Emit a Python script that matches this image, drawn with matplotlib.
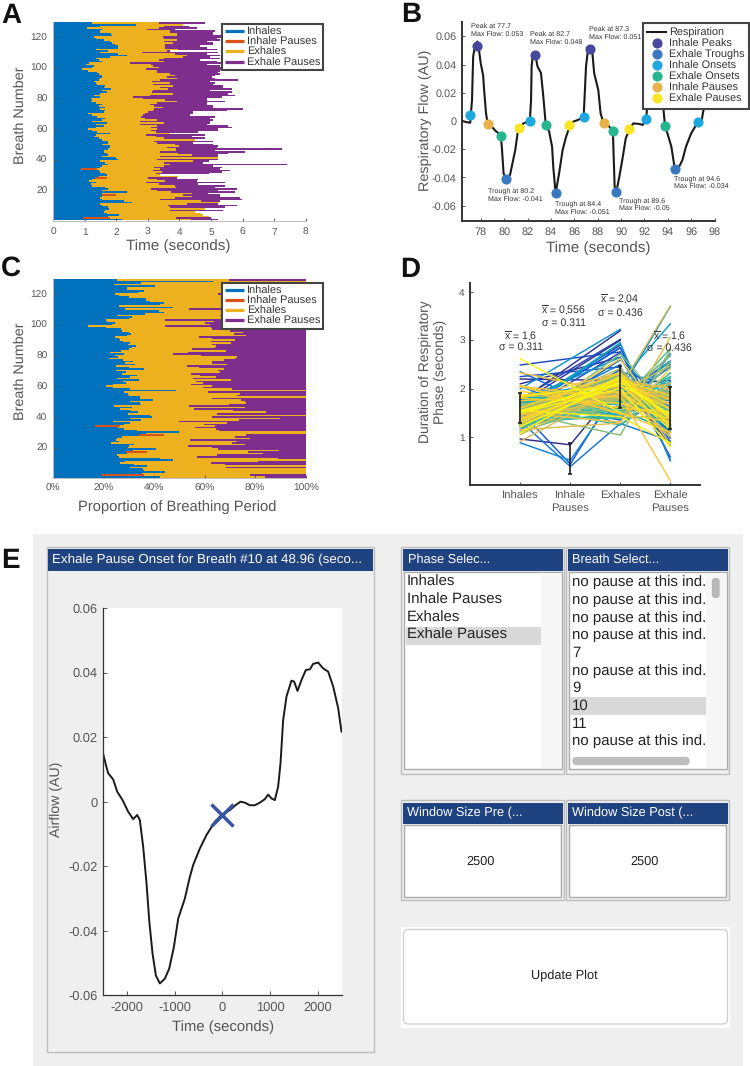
import numpy as np
import matplotlib
matplotlib.use("Agg")
import matplotlib.pyplot as plt
from matplotlib.patches import Rectangle, FancyBboxPatch
from matplotlib.colors import LinearSegmentedColormap
from matplotlib.ticker import FuncFormatter

plt.rcParams['font.family'] = ['Liberation Sans', 'DejaVu Sans']
plt.rcParams['mathtext.fontset'] = 'custom'
plt.rcParams['mathtext.rm'] = 'Liberation Sans'
plt.rcParams['mathtext.default'] = 'rm'
plt.rcParams['text.hinting'] = 'no_hinting'
plt.rcParams['axes.unicode_minus'] = False

W, H = 750, 1066
BLUE, ORANGE, YELLOW, PURPLE = '#0072BD', '#D95319', '#EDB120', '#7E2F8E'
GREY = '#555555'

# ---------- breath data (seconds), breath 1..130 ----------
inhale_end = [2.2,0.96,1.75,2.1,1.7,1.6,1.65,1.78,1.75,1.55,
              1.5,2.49,2.25,1.55,1.5,1.55,1.54,1.55,2.35,1.55,
              1.75,1.65,1.25,1.2,1.35,1.15,1.25,1.33,1.45,1.7,
              1.65,1.5,1.45,0.88,1.5,1.55,1.75,1.65,1.5,2.05,
              2.0,1.55,1.75,1.7,1.6,1.6,1.75,1.8,1.8,1.55,
              1.75,1.75,1.55,1.45,1.3,1.35,1.8,1.4,1.25,1.1,
              1.35,1.6,1.35,1.7,1.25,1.55,1.65,1.4,1.25,1.1,
              1.6,1.65,1.5,1.65,1.45,1.55,1.35,1.2,1.25,1.2,
              1.5,1.3,1.5,1.7,1.55,1.85,1.6,1.65,1.4,1.35,
              1.3,1.45,1.5,1.55,1.55,1.45,1.4,1.1,0.91,1.25,
              1.3,1.05,1.15,1.55,1.45,1.35,1.8,2.33,2.05,1.5,
              1.75,1.35,2.07,2.05,1.95,1.87,1.8,1.6,1.35,1.3,
              1.86,1.83,1.49,1.5,1.55,1.09,1.5,2.62,1.22,1.54]
exhale_end = [4.37,3.9,4.95,4.75,4.7,4.5,3.7,4.8,3.7,3.65,
              4.25,5.25,4.7,3.4,3.85,4.4,4.1,4.4,3.75,3.3,
              3.1,3.9,3.85,3.35,2.95,3.55,3.3,3.0,3.95,3.4,
              3.25,3.45,3.15,3.4,3.2,3.5,3.7,3.5,4.44,3.3,
              5.23,3.4,4.4,3.95,3.4,3.9,3.9,3.6,4.0,3.85,
              3.3,3.2,4.5,3.5,3.25,2.95,3.7,3.25,3.1,3.3,
              3.1,3.3,2.75,3.5,2.75,3.28,2.9,2.8,2.86,2.9,
              3.0,3.18,3.2,3.49,3.2,3.07,3.3,3.92,3.55,2.86,
              2.54,3.07,3.8,3.12,3.18,3.65,3.4,3.8,3.18,3.7,
              3.12,3.4,3.92,3.6,3.86,3.7,3.3,3.3,2.95,3.35,
              3.18,3.1,2.44,3.5,3.35,3.5,4.13,4.23,3.86,2.81,
              3.6,3.97,3.55,3.55,3.55,3.8,3.5,3.92,3.5,3.49,
              3.92,3.92,3.7,3.7,2.97,3.35,3.5,4.13,3.35,3.65]
pause_end = [5.21,5.0,4.95,4.75,4.7,4.5,5.39,4.8,5.45,5.82,
             5.23,5.25,5.29,5.97,5.92,5.29,5.3,4.92,5.76,5.23,
             5.82,5.13,5.45,4.6,5.45,4.55,4.58,3.92,3.95,3.4,
             4.95,5.34,5.6,5.29,5.34,5.08,7.4,4.76,4.95,5.23,
             5.23,5.23,5.23,5.55,6.08,5.13,7.24,5.18,5.23,5.08,
             4.44,5.08,4.5,4.81,4.4,4.81,3.7,4.6,5.23,5.23,
             5.66,5.55,4.87,4.97,4.97,5.08,4.97,5.13,4.34,4.44,
             4.44,5.5,6.03,5.08,5.08,4.87,4.87,5.45,4.87,4.87,
             5.34,5.76,5.55,5.66,4.97,5.66,5.39,5.39,5.08,5.13,
             4.97,5.87,5.13,5.02,5.13,5.29,5.23,5.29,6.66,5.39,
             5.29,4.87,5.5,5.18,4.65,5.29,4.97,5.29,4.87,5.23,
             3.7,5.18,4.87,4.65,5.08,5.08,4.87,5.29,5.18,5.34,
             5.5,5.08,5.08,5.13,3.85,4.55,4.3,4.13,4.81,3.65]
# breaths with an inhale pause, and where that pause ends
ipause_breath = [2, 17, 28, 34]
ipause_end = [1.8, 1.98, 1.72, 1.4]

# ---------- panel B ----------
resp_t = [76.45,76.75,77.1,77.15,77.25,77.35,77.5,77.7,77.85,78.0,78.2,78.3,78.45,78.6,78.95,79.25,79.7,
          79.8,79.95,80.2,80.5,80.65,80.95,81.15,81.25,81.65,82.2,82.3,82.35,82.45,82.7,82.85,83.15,83.35,
          83.55,83.85,84.1,84.2,84.4,84.7,85.0,85.3,85.65,85.9,86.3,86.8,87.0,87.15,87.3,87.55,87.7,88.05,
          88.25,88.5,88.95,89.3,89.35,89.45,89.6,89.85,90.15,90.4,90.75,91.05,91.55,91.85,92.15,92.4,92.7,
          93.1,93.5,93.75,94.05,94.3,94.6,94.9,95.25,95.55,96.0,96.25,96.6,96.9,97.1,97.4]
resp_f = [0.0,-0.0008,-0.0012,0.0045,0.0146,0.0457,0.053,0.0563,0.0501,0.0407,0.0324,0.0206,0.0054,-0.0024,-0.0040,-0.0069,-0.0099,
          -0.0182,-0.0371,-0.0414,-0.0383,-0.0324,-0.0206,-0.0087,-0.0052,-0.0017,0.0002,0.0147,0.0387,0.0468,0.0456,0.0387,0.0340,0.0172,
          -0.0017,-0.0076,-0.0182,-0.0324,-0.0513,-0.0371,-0.0206,-0.0111,-0.0028,-0.0005,0.0007,0.0026,0.0385,0.0492,0.0508,0.0480,0.0338,0.0220,
          0.0054,-0.0017,-0.0036,-0.0069,-0.0206,-0.0465,-0.0501,-0.0395,-0.0253,-0.0123,-0.0052,-0.0017,-0.0021,-0.0028,0.0014,0.0300,0.0450,
          0.0490,0.0200,-0.0030,-0.0111,-0.0182,-0.0340,-0.0335,-0.0276,-0.0182,-0.0087,-0.0052,-0.0005,0.0007,0.0102,0.0300]
peak_t, peak_f = [77.7,82.6,87.3], [0.053,0.047,0.0508]
trough_t, trough_f = [80.2,84.4,89.6,94.6], [-0.0414,-0.0513,-0.0501,-0.034]
ion_t, ion_f = [77.1,82.2,86.8,92.15,96.6], [0.0045,0.0002,0.0026,0.0014,-0.0005]
eon_t, eon_f = [79.7,83.55,89.3,93.75], [-0.0105,-0.0028,-0.0069,-0.0035]
ip_t, ip_f = [78.6,88.5], [-0.0024,-0.0017]
ep_t, ep_f = [81.25,85.55,90.7], [-0.0052,-0.0028,-0.0055]
notes_b = [("Peak at 77.7\nMax Flow: 0.053", 471, 30.5), ("Peak at 82.7\nMax Flow: 0.048", 530, 38),
           ("Peak at 87.3\nMax Flow: 0.051", 588.7, 33), ("Trough at 80.2\nMax Flow: -0.041", 487.7, 195),
           ("Trough at 84.4\nMax Flow: -0.051", 554.7, 208), ("Trough at 89.6\nMax Flow: -0.05", 619.3, 204.3),
           ("Trough at 94.6\nMax Flow: -0.034", 674, 182.5)]

# ---------- panel D ----------
phase_names = ['Inhales', 'Inhale\nPauses', 'Exhales', 'Exhale\nPauses']
phase_mean = [1.6, 0.556, 2.04, 1.6]
phase_std = [0.311, 0.311, 0.436, 0.436]
mean_txt = ['1.6', '0.556', '2.04', '1.6']
std_txt = ['0.311', '0.311', '0.436', '0.436']

# ---------- panel E ----------
win_t = [-2500,-2444,-2395,-2290,-2206,-2094,-1976,-1871,-1787,-1731,-1661,-1591,-1535,-1465,-1395,-1311,
         -1206,-1115,-1017,-926,-787,-682,-612,-472,-332,-157,-17,158,283,381,472,577,682,787,892,962,1032,
         1101,1171,1220,1276,1346,1451,1507,1577,1661,1752,1836,1906,2010,2115,2220,2325,2430,2500]
win_f = [.0148,.0114,.0088,.0069,.0031,.0005,-.0031,-.0054,-.0041,-.0057,-.014,-.0253,-.0367,-.047,-.0538,-.0563,
         -.0548,-.0517,-.045,-.0362,-.03,-.0233,-.0196,-.0145,-.0103,-.0062,-.0041,-.0026,-.001,0,-.0003,-.0011,-.0011,-.0003,.0008,.0022,.001,
         .0005,.0047,.0119,.0253,.0326,.0375,.0372,.0343,.0377,.0408,.041,.0427,.0431,.0413,.0403,.0357,.029,.0217]
mark_t, mark_f = 3, -0.0041
phase_list = ['Inhales', 'Inhale Pauses', 'Exhales', 'Exhale Pauses']
breath_list = ['no pause at this ind.'] * 4 + ['7', 'no pause at this ind.', '9', '10', '11', 'no pause at this ind.']

# ---------- derived ----------
breaths = np.arange(1, 131)
ie = np.array(inhale_end, float)
ee = np.array(exhale_end, float)
pe = np.array(pause_end, float)
ex_start = ie.copy()
for b, e_ in zip(ipause_breath, ipause_end):
    ex_start[b - 1] = e_

fig = plt.figure(figsize=(W / 100, H / 100), dpi=100, facecolor='white')

def box(l, t, r, b):
    return [l / W, 1 - b / H, (r - l) / W, (b - t) / H]

ov = fig.add_axes([0, 0, 1, 1], zorder=0)
ov.set_xlim(0, W); ov.set_ylim(H, 0); ov.axis('off')

def rect(x0, y0, x1, y1, fc, ec='none', lw=0):
    ov.add_patch(Rectangle((x0, y0), x1 - x0, y1 - y0, fc=fc, ec=ec, lw=lw))

def style(ax, color='#BBBBBB', lw=0.7, ts=7.3, length=2, pad=4):
    for s in ['top', 'right']:
        ax.spines[s].set_visible(False)
    for s in ['left', 'bottom']:
        ax.spines[s].set_color(color)
        ax.spines[s].set_linewidth(lw)
    ax.tick_params(direction='in', length=length, width=0.7, color='#555555',
                   labelcolor=GREY, labelsize=ts, pad=pad)
    ax.patch.set_alpha(0)

def labels(ax, xl, xy, yl, yxy, fs_x=11, fs_y=10.4):
    ax.set_xlabel(xl, fontsize=fs_x, color=GREY, va='center', ha='center')
    ax.xaxis.set_label_coords(xy[0] / W, 1 - xy[1] / H, transform=fig.transFigure)
    ax.set_ylabel(yl, fontsize=fs_y, color=GREY, va='center', ha='center')
    ax.yaxis.set_label_coords(yxy[0] / W, 1 - yxy[1] / H, transform=fig.transFigure)

def bar_legend(ax, l, t):
    hs = [plt.Line2D([], [], color=c, lw=2.3, solid_capstyle='butt') for c in (BLUE, ORANGE, YELLOW, PURPLE)]
    leg = ax.legend(hs, ['Inhales', 'Inhale Pauses', 'Exhales', 'Exhale Pauses'], loc='upper left',
                    bbox_to_anchor=(l / W, 1 - t / H), bbox_transform=fig.transFigure, borderaxespad=0,
                    fontsize=7.9, labelspacing=0.0, borderpad=0.25, handlelength=1.75, handletextpad=0.3,
                    fancybox=False, framealpha=1, edgecolor='#444444', labelcolor='#333333')
    leg.get_frame().set_linewidth(1.5)

# ---------- A ----------
a = fig.add_axes(box(53, 21.7, 305.7, 221), zorder=1)
a.barh(breaths, ie, height=1, color=BLUE, lw=0)
ipb = np.array(ipause_breath)
a.barh(ipb, np.array(ipause_end) - ie[ipb - 1], left=ie[ipb - 1], height=1, color=ORANGE, lw=0)
a.barh(breaths, ee - ex_start, left=ex_start, height=1, color=YELLOW, lw=0)
a.barh(breaths, pe - ee, left=ee, height=1, color=PURPLE, lw=0)
a.set_xlim(0, 8); a.set_ylim(0, 130)
a.set_yticks(range(20, 121, 20)); a.set_xticks(range(0, 9))
style(a, pad=5)
a.tick_params(axis='y', pad=4)
labels(a, 'Time (seconds)', (178, 246), 'Breath Number', (20, 115))
bar_legend(a, 222, 24)

# ---------- C ----------
c = fig.add_axes(box(53, 278.5, 305.7, 478.3), zorder=1)
c.barh(breaths, ie / pe, height=1, color=BLUE, lw=0)
c.barh(ipb, (np.array(ipause_end) - ie[ipb - 1]) / pe[ipb - 1], left=ie[ipb - 1] / pe[ipb - 1], height=1, color=ORANGE, lw=0)
c.barh(breaths, (ee - ex_start) / pe, left=ex_start / pe, height=1, color=YELLOW, lw=0)
c.barh(breaths, (pe - ee) / pe, left=ee / pe, height=1, color=PURPLE, lw=0)
c.set_xlim(0, 1); c.set_ylim(0, 130)
c.set_yticks(range(20, 121, 20)); c.set_xticks(np.arange(0, 1.01, 0.2))
c.xaxis.set_major_formatter(FuncFormatter(lambda v, p: f'{v * 100:.0f}%'))
style(c, pad=4)
labels(c, 'Proportion of Breathing Period', (177.7, 506.7), 'Breath Number', (20, 371.7), fs_x=10.6)
bar_legend(c, 222, 282.7)

# ---------- B ----------
ax_b = fig.add_axes(box(462.3, 22.2, 714.6, 221.2), zorder=1)
ax_b.plot(resp_t, resp_f, color='#1a1a1a', lw=1.5, label='Respiration')
for (tt, ff, col, lab) in [(peak_t, peak_f, '#47489B', 'Inhale Peaks'), (trough_t, trough_f, '#3B78C2', 'Exhale Troughs'),
                           (ion_t, ion_f, '#1FA8E0', 'Inhale Onsets'), (eon_t, eon_f, '#28B68F', 'Exhale Onsets'),
                           (ip_t, ip_f, '#E8B24A', 'Inhale Pauses'), (ep_t, ep_f, '#F9E426', 'Exhale Pauses')]:
    ax_b.plot(tt, ff, 'o', color=col, ms=7.3, mew=0, label=lab, zorder=3)
ax_b.set_xlim(76.42, 98); ax_b.set_ylim(-0.071, 0.07)
ax_b.set_xticks(range(78, 99, 2))
ax_b.set_yticks([-0.06, -0.04, -0.02, 0, 0.02, 0.04, 0.06])
ax_b.set_yticklabels(['-0.06', '-0.04', '-0.02', '0', '0.02', '0.04', '0.06'])
style(ax_b, color='#333333', lw=1.4, ts=7.8, pad=4)
labels(ax_b, 'Time (seconds)', (598, 247.7), 'Respiratory Flow (AU)', (425, 120.7))
lg = ax_b.legend(loc='upper left', bbox_to_anchor=(643 / W, 1 - 23 / H), bbox_transform=fig.transFigure,
                 borderaxespad=0, fontsize=7.8, labelspacing=0.08, borderpad=0.4, handlelength=1.7,
                 handletextpad=0.3, fancybox=False, framealpha=1, edgecolor='#444444', labelcolor='#333333')
lg.get_frame().set_linewidth(1.5)
for s, x, y in notes_b:
    ov.text(x, y, s, fontsize=5.1, color='#333333', ha='left', va='center', linespacing=1.25)

# ---------- D ----------
d = fig.add_axes(box(470.3, 283.3, 700, 485.4), zorder=1)
parula = LinearSegmentedColormap.from_list('parula', ['#352A87', '#0F5CDD', '#1481D6', '#06A4CA', '#2EB7A4',
                                                      '#87BF77', '#D1BB59', '#FEC832', '#F9FB0E'])
for i in range(130):
    xs, ys = [1], [ie[i]]
    if (i + 1) in ipause_breath:
        xs.append(2); ys.append(ex_start[i] - ie[i])
    xs.append(3); ys.append(ee[i] - ex_start[i])
    if pe[i] > ee[i]:
        xs.append(4); ys.append(pe[i] - ee[i])
    d.plot(xs, ys, color=parula(i / 129), lw=1.05)
d.errorbar([1, 2, 3, 4], phase_mean, yerr=phase_std, fmt='none', ecolor='#111111', elinewidth=1.1, capsize=1.3, capthick=1.1, zorder=5)
d.set_xlim(0, 4.594); d.set_ylim(0, 4.18)
d.set_xticks([1, 2, 3, 4]); d.set_xticklabels(phase_names, fontsize=8.2)
d.set_yticks([1, 2, 3, 4])
style(d, color='#333333', lw=1.4, ts=7.3)
d.tick_params(axis='x', labelsize=8.2, pad=4)
d.set_ylabel('Duration of Respiratory\nPhase (seconds)', fontsize=10, color=GREY, va='center', ha='center', linespacing=1.15)
d.yaxis.set_label_coords(433 / W, 1 - 372 / H, transform=fig.transFigure)
for (x, y1, y2), m, s in zip([(520.7, 335.7, 347.3), (564, 310, 323.3), (620, 299.3, 312.7), (669.3, 336, 348)], mean_txt, std_txt):
    d.text(x, y1, r'$\overline{\mathrm{x}}$ = ' + m, transform=ov.transData, fontsize=7.6, color='#333333', ha='center', va='center', clip_on=False, zorder=6)
    d.text(x, y2, '\u03c3 = ' + s, transform=ov.transData, fontsize=7.6, color='#333333', ha='center', va='center', clip_on=False, zorder=6)

# ---------- panel letters ----------
for s, x, y in [('A', 1, 15.5), ('B', 401, 15), ('C', 1, 268), ('D', 400, 270), ('E', 1, 561)]:
    ov.text(x, y, s, fontsize=20, fontweight='bold', color='#111111', ha='left', va='center')

# ---------- E chrome ----------
BAR = '#1F4280'
EDGE = '#BDBDBD'
rect(33, 534, 742.7, 1066, '#EFEFEF')

def panel(x0, y0, x1, y1):
    rect(x0, y0, x1, y1, '#EFEFEF', EDGE, 1)

def titlebar(x0, x1, y0, y1, txt, tx, fs=9.2):
    rect(x0, y0, x1, y1, BAR)
    ov.text(tx, (y0 + y1) / 2, txt, fontsize=fs, color='white', ha='left', va='center')

panel(46.7, 546.7, 374, 1051.7)
titlebar(48, 373, 549, 571, 'Exhale Pause Onset for Breath #10 at 48.96 (seco...', 52.3, 9.6)

# list boxes
panel(400.7, 546.7, 564, 774.3)
titlebar(403, 563, 549, 571, 'Phase Selec...', 407.7)
rect(403.5, 572, 561.5, 769, 'white', '#AAAAAA', 1)
rect(541, 573, 561, 768, '#F7F7F7')
rect(405.7, 626.5, 541, 644.5, '#D8D8D8')
row_y = 582.3
for i, s in enumerate(phase_list):
    ov.text(407, row_y + i * 17.67, s, fontsize=10.8, color='#222222', ha='left', va='center')

panel(565.7, 546.7, 729, 774.3)
titlebar(568, 728, 549, 571, 'Breath Select...', 572)
rect(568.5, 572, 726.5, 769, 'white', '#AAAAAA', 1)
rect(706, 573, 726, 768, '#F7F7F7')
rect(570, 697, 706, 715, '#D8D8D8')
for i, s in enumerate(breath_list):
    ov.text(572, row_y + i * 17.67, s, fontsize=10.8, color='#222222', ha='left', va='center')
ov.add_patch(FancyBboxPatch((712.5, 578.5), 6.5, 19, boxstyle='round,pad=0,rounding_size=3.2', fc='#B8B8B8', ec='#B8B8B8', lw=1))
ov.add_patch(FancyBboxPatch((573, 757.5), 116, 7, boxstyle='round,pad=0,rounding_size=3.5', fc='#BDBDBD', ec='#BDBDBD', lw=1))

# window size boxes
for x0, x1, bx0, bx1, tx, txt, cx in [(400.7, 564, 403, 563, 407, 'Window Size Pre (...', 480.3),
                                       (565.7, 729, 568, 728, 572, 'Window Size Post (...', 645)]:
    panel(x0, 800, x1, 900)
    titlebar(bx0, bx1, 802.5, 824, txt, tx)
    rect(bx0 + 0.5, 824.5, bx1 - 2, 897, 'white', '#AAAAAA', 1)
    ov.text(cx, 861.3, '2500', fontsize=9.2, color='#222222', ha='center', va='center')

rect(400.7, 926.7, 730, 1027.7, 'white')
ov.add_patch(FancyBboxPatch((403.5, 929.5), 324, 94.5, boxstyle='round,pad=0,rounding_size=5', fc='white', ec='#D0D0D0', lw=1))
ov.text(564.3, 975.7, 'Update Plot', fontsize=9.2, color='#222222', ha='center', va='center')

# ---------- E plot ----------
e = fig.add_axes(box(103.2, 608, 341.5, 995.4), zorder=1)
e.plot(win_t, win_f, color='#1a1a1a', lw=1.4)
e.plot([mark_t], [mark_f], 'x', color='#3953A4', ms=16.5, mew=2.5)
e.set_xlim(-2500, 2500); e.set_ylim(-0.06, 0.06)
e.set_xticks([-2000, -1000, 0, 1000, 2000])
e.set_yticks([-0.06, -0.04, -0.02, 0, 0.02, 0.04, 0.06])
e.set_yticklabels(['-0.06', '-0.04', '-0.02', '0', '0.02', '0.04', '0.06'])
style(e, color='#333333', lw=0.9, ts=9.3, length=3)
e.patch.set_alpha(1); e.patch.set_facecolor('white')
labels(e, 'Time (seconds)', (222.7, 1027), 'Airflow (AU)', (56.7, 799), fs_x=10.7, fs_y=10.2)

fig.savefig('out.png', dpi=100)
